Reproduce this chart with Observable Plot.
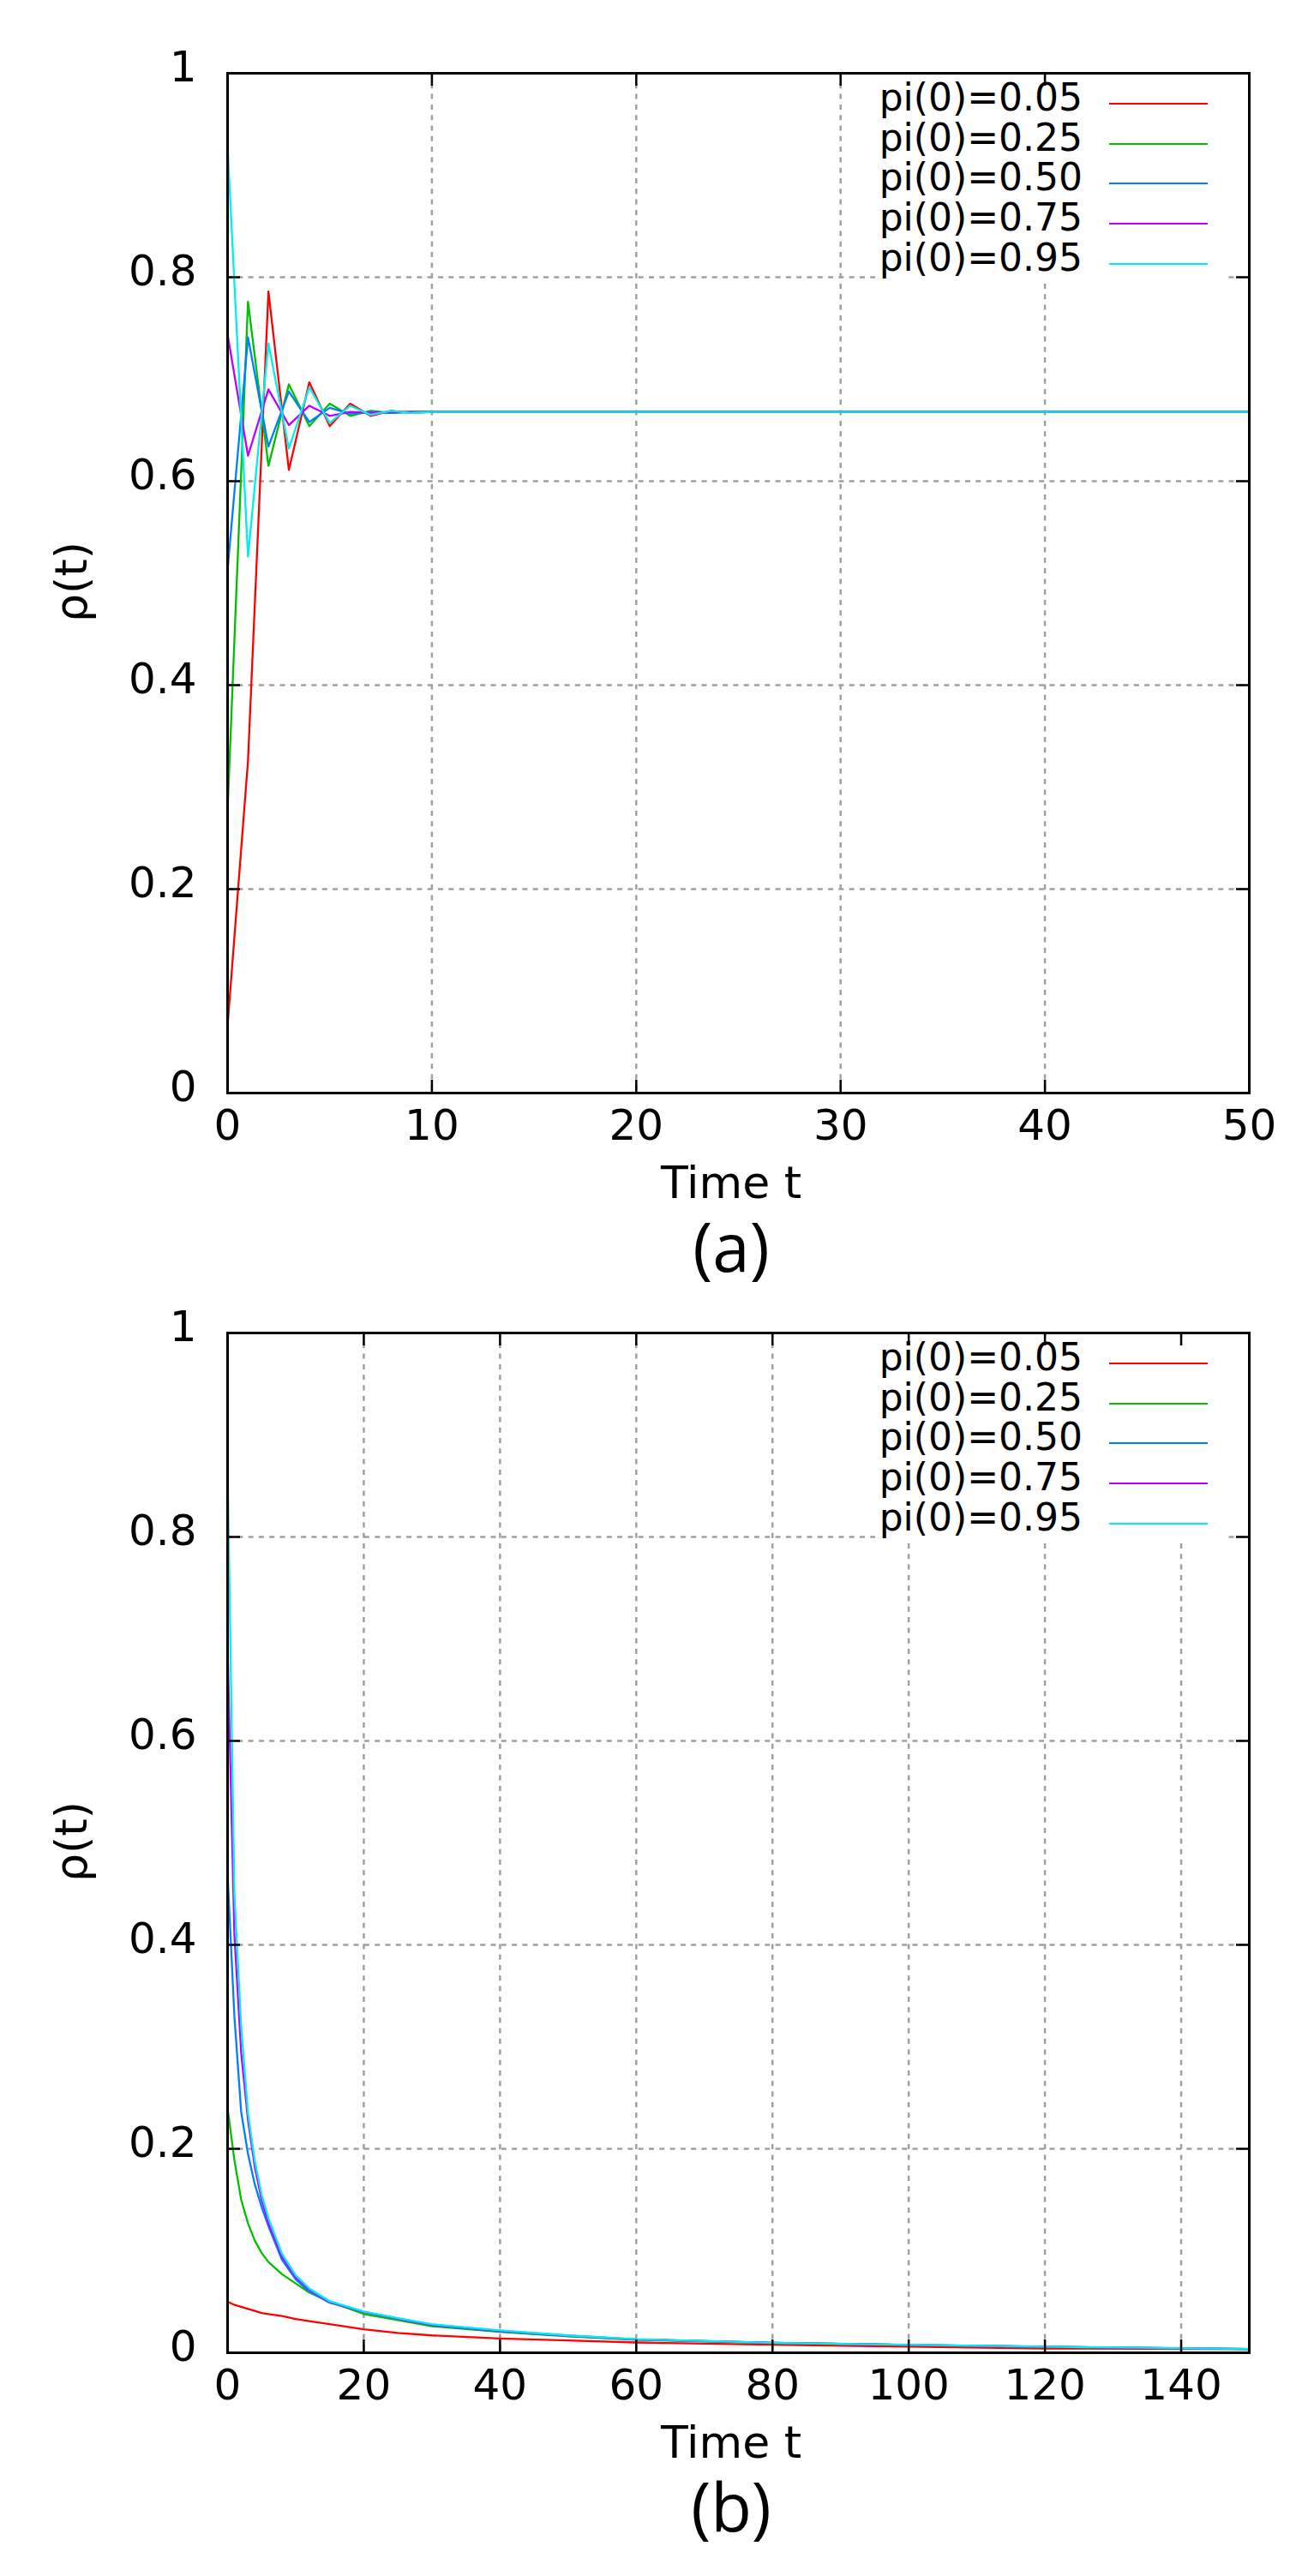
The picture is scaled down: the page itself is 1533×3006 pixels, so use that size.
<!DOCTYPE html>
<html>
<head>
<meta charset="utf-8">
<script src="https://cdn.jsdelivr.net/npm/d3@7"></script>
<script src="https://cdn.jsdelivr.net/npm/@observablehq/plot@0.6"></script>
<style>
  html, body { margin: 0; padding: 0; background: #fff; }
  #fig { position: relative; width: 1533px; height: 3006px; overflow: hidden; background: #fff; font-family: "DejaVu Sans", sans-serif; color: #000; }
  .panel { position: absolute; left: 0; }
  .lbl { position: absolute; white-space: nowrap; }
</style>
</head>
<body>
<div id="fig"></div>
<script>
// ---------- data ----------
const seriesLabels = ["pi(0)=0.05", "pi(0)=0.25", "pi(0)=0.50", "pi(0)=0.75", "pi(0)=0.95"];
const seriesColors = ["#ff0000", "#00c000", "#0080ff", "#c000ff", "#00eeee"];

// panel (a)
const timeA = [0, 1, 2, 3, 4, 5, 6, 7, 8, 9, 10, 50];
const rhoA_005 = [0.066, 0.326, 0.786, 0.611, 0.697, 0.654, 0.676, 0.664, 0.669, 0.667, 0.668, 0.668];
const rhoA_025 = [0.277, 0.776, 0.615, 0.695, 0.654, 0.676, 0.664, 0.669, 0.667, 0.668, 0.668, 0.668];
const rhoA_050 = [0.513, 0.741, 0.634, 0.688, 0.658, 0.672, 0.666, 0.668, 0.667, 0.668, 0.668, 0.668];
const rhoA_075 = [0.744, 0.625, 0.690, 0.655, 0.674, 0.664, 0.668, 0.667, 0.668, 0.668, 0.668, 0.668];
const rhoA_095 = [0.929, 0.526, 0.735, 0.632, 0.692, 0.657, 0.674, 0.665, 0.669, 0.667, 0.668, 0.668];
const xTicksA = [0, 10, 20, 30, 40, 50];
const xTickLabelsA = ["0", "10", "20", "30", "40", "50"];
const xDomainA = [0, 50];

// panel (b)
const timeB = [0, 1, 2, 3, 4, 5, 6, 8, 10, 12, 15, 20, 25, 30, 40, 50, 60, 80, 100, 120, 150];
const rhoB_005 = [0.050, 0.047, 0.045, 0.043, 0.041, 0.039, 0.038, 0.036, 0.033, 0.031, 0.028, 0.023, 0.0195, 0.017, 0.014, 0.012, 0.0101, 0.0078, 0.0060, 0.0042, 0.0034];
const rhoB_025 = [0.240, 0.189, 0.150, 0.127, 0.110, 0.098, 0.089, 0.077, 0.068, 0.059, 0.050, 0.038, 0.032, 0.026, 0.0205, 0.016, 0.0128, 0.0096, 0.0077, 0.0058, 0.0036];
const rhoB_050 = [0.470, 0.330, 0.236, 0.195, 0.165, 0.143, 0.124, 0.091, 0.072, 0.060, 0.049, 0.040, 0.033, 0.027, 0.021, 0.0165, 0.0130, 0.0097, 0.0077, 0.0059, 0.0036];
const rhoB_075 = [0.692, 0.410, 0.294, 0.228, 0.182, 0.150, 0.127, 0.094, 0.074, 0.062, 0.050, 0.040, 0.0335, 0.0275, 0.0215, 0.0168, 0.0132, 0.0097, 0.0077, 0.0059, 0.0036];
const rhoB_095 = [0.870, 0.450, 0.320, 0.235, 0.188, 0.155, 0.132, 0.097, 0.076, 0.063, 0.0505, 0.0405, 0.034, 0.028, 0.022, 0.017, 0.0134, 0.0098, 0.0078, 0.0060, 0.0036];
const xTicksB = [0, 20, 40, 60, 80, 100, 120, 140];
const xTickLabelsB = ["0", "20", "40", "60", "80", "100", "120", "140"];
const xDomainB = [0, 150];

const yTicks = [0, 0.2, 0.4, 0.6, 0.8, 1];
const yTickLabels = ["0", "0.2", "0.4", "0.6", "0.8", "1"];

const xLabel = "Time t";
const yLabel = "ρ(t)";
const panelTags = ["(a)", "(b)"];

// ---------- layout ----------
const W = 1533, H = 1470;
const mL = 265, mR = 76, mT = 85, plotH = 1190;
const mB = H - mT - plotH;
const tickLen = 15;
const gridStyle = {stroke: "#a0a0a0", strokeWidth: 2.5, strokeDasharray: "6,6.3"};

function makePanel(time, series, xDomain, xTicks, xTickLabels) {
  const data = series.flatMap((vals, s) => vals.map((v, i) => ({t: time[i], rho: v, s: seriesLabels[s]})));
  const plotW = W - mL - mR;
  const xInner = xTicks.filter(d => d > xDomain[0] && d < xDomain[1]);
  const yInner = yTicks.filter(d => d > 0 && d < 1);
  return Plot.plot({
    width: W, height: H,
    marginLeft: mL, marginRight: mR, marginTop: mT, marginBottom: mB,
    x: {domain: xDomain, label: null},
    y: {domain: [0, 1], label: null},
    color: {domain: seriesLabels, range: seriesColors},
    style: {fontFamily: "DejaVu Sans", fontSize: "50px", color: "#000", background: "transparent", overflow: "visible"},
    marks: [
      Plot.ruleX(xInner, {x: d => d, ...gridStyle}),
      Plot.ruleY(yInner, {y: d => d, ...gridStyle}),
      Plot.line(data, {x: "t", y: "rho", z: "s", stroke: "s", strokeWidth: 2.3}),
      // inward ticks on all four sides
      Plot.tickX(xTicks, {x: d => d, stroke: "#000", strokeWidth: 2.5, insetTop: plotH - tickLen}),
      Plot.tickX(xTicks, {x: d => d, stroke: "#000", strokeWidth: 2.5, insetBottom: plotH - tickLen}),
      Plot.tickY(yTicks, {y: d => d, stroke: "#000", strokeWidth: 2.5, insetRight: plotW - tickLen}),
      Plot.tickY(yTicks, {y: d => d, stroke: "#000", strokeWidth: 2.5, insetLeft: plotW - tickLen}),
      Plot.axisX(xTicks, {anchor: "bottom", tickSize: 0, tickPadding: 19, label: null,
        tickFormat: d => xTickLabels[xTicks.indexOf(d)]}),
      Plot.axisY(yTicks, {anchor: "left", tickSize: 0, tickPadding: 36, dy: -7, label: null,
        tickFormat: d => yTickLabels[yTicks.indexOf(d)]}),
      Plot.frame({stroke: "#000", strokeWidth: 3})
    ]
  });
}

const fig = document.getElementById("fig");

function addText(txt, css) {
  const d = document.createElement("div");
  d.className = "lbl";
  d.textContent = txt;
  d.style.cssText += css;
  fig.appendChild(d);
  return d;
}

function addLegend(top) {
  const box = document.createElement("div");
  box.style.cssText = `position:absolute;left:1021px;top:${top + 100}px;width:410px;height:228px;background:#fff;`;
  seriesLabels.forEach((lab, i) => {
    const cy = 21 + i * 46.67;
    const t = document.createElement("div");
    t.textContent = lab;
    t.style.cssText = `position:absolute;left:0;width:242px;text-align:right;top:${cy - 7 - 23}px;height:46px;line-height:46px;font-size:44px;font-family:"DejaVu Sans";white-space:nowrap;`;
    const s = document.createElement("div");
    s.style.cssText = `position:absolute;left:${1294 - 1021}px;width:115px;top:${cy - 1.15}px;height:2.3px;background:${seriesColors[i]};`;
    box.appendChild(t);
    box.appendChild(s);
  });
  fig.appendChild(box);
}

const panels = [
  {top: 0, el: makePanel(timeA, [rhoA_005, rhoA_025, rhoA_050, rhoA_075, rhoA_095], xDomainA, xTicksA, xTickLabelsA)},
  {top: H, el: makePanel(timeB, [rhoB_005, rhoB_025, rhoB_050, rhoB_075, rhoB_095], xDomainB, xTicksB, xTickLabelsB)}
];

panels.forEach((p, k) => {
  const wrap = document.createElement("div");
  wrap.className = "panel";
  wrap.style.top = p.top + "px";
  wrap.appendChild(p.el);
  fig.appendChild(wrap);
  addLegend(p.top);
  addText(xLabel, `left:853px;top:${p.top + 1380}px;transform:translate(-50%,-50%);font-size:52px;line-height:52px;font-family:"DejaVu Sans";`);
  addText(yLabel, `left:83px;top:${p.top + 679}px;transform:translate(-50%,-50%) rotate(-90deg);font-size:52px;line-height:52px;font-family:"DejaVu Sans";`);
  addText(panelTags[k], `left:853px;top:${p.top + 1454}px;transform:translate(-50%,-50%);font-size:78px;line-height:78px;font-family:"Open Sans";`);
});
</script>
</body>
</html>
